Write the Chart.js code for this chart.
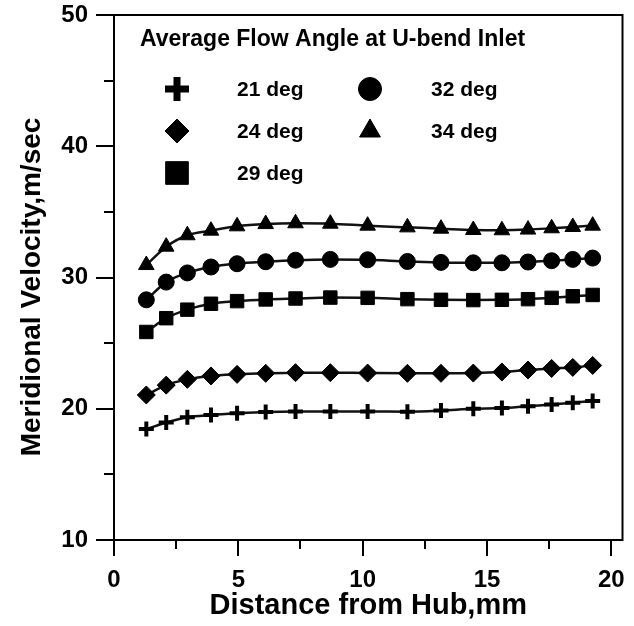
<!DOCTYPE html>
<html>
<head>
<meta charset="utf-8">
<script src="https://cdn.jsdelivr.net/npm/chart.js@4/dist/chart.umd.min.js"></script>
<style>
  body { margin: 0; background: #fff; }
  #wrap { width: 634px; height: 626px; }
</style>
</head>
<body>
<div id="wrap"><canvas id="chart" width="634" height="626"></canvas></div>
<script>
// distance from hub (mm) of the measuring stations
const distance = [1.3, 2.1, 2.95, 3.9, 4.95, 6.1, 7.3, 8.7, 10.2, 11.8, 13.15, 14.45, 15.6, 16.65, 17.6, 18.45, 19.25];

// meridional velocity (m/sec) for each average flow angle
const deg21 = [18.45, 18.95, 19.35, 19.52, 19.65, 19.76, 19.8, 19.8, 19.8, 19.78, 19.86, 20.0, 20.05, 20.2, 20.32, 20.45, 20.6];
const deg24 = [21.05, 21.8, 22.24, 22.5, 22.62, 22.7, 22.75, 22.75, 22.72, 22.7, 22.7, 22.72, 22.8, 22.95, 23.07, 23.15, 23.3];
const deg29 = [25.85, 26.9, 27.55, 28.0, 28.2, 28.33, 28.4, 28.47, 28.45, 28.35, 28.3, 28.28, 28.3, 28.35, 28.45, 28.57, 28.67];
const deg32 = [28.3, 29.65, 30.35, 30.8, 31.05, 31.2, 31.32, 31.38, 31.35, 31.22, 31.15, 31.12, 31.12, 31.18, 31.28, 31.38, 31.48];
const deg34 = [30.95, 32.35, 33.22, 33.57, 33.9, 34.07, 34.13, 34.1, 33.95, 33.82, 33.72, 33.62, 33.6, 33.65, 33.75, 33.85, 33.95];

const legendTitle = "Average Flow Angle at U-bend Inlet";
const xTitle = "Distance from Hub,mm";
const yTitle = "Meridional Velocity,m/sec";

const FONT = "'Liberation Sans', Arial, sans-serif";

function pts(vals) {
    return vals.map((v, i) => ({x: distance[i], y: v}));
}

function series(label, vals, style, radius, bw, legendRadius, legendBw) {
    return {
        label: label,
        data: pts(vals),
        borderColor: "#111",
        borderWidth: 2.5,
        backgroundColor: "#000",
        pointStyle: style,
        pointRadius: radius,
        pointBorderWidth: bw,
        pointBackgroundColor: "#000",
        pointBorderColor: "#000",
        cubicInterpolationMode: "monotone",
        fill: false,
        legendRadius: legendRadius,
        legendBw: legendBw
    };
}

// stop the layout from shrinking the plot for overhanging tick labels
function fixBox(size) {
    return s => {
        if (s.isHorizontal()) s.height = size; else s.width = size;
        s.paddingTop = 0;
        s.paddingBottom = 0;
        s.paddingLeft = 0;
        s.paddingRight = 0;
    };
}

// box + outward tick marks (major long, minor short) and the y title
const frameTicks = {
    id: "frameTicks",
    afterDraw(chart) {
        const {ctx, chartArea: a, scales} = chart;
        ctx.save();
        ctx.strokeStyle = "#000";
        ctx.lineWidth = 2;
        ctx.strokeRect(a.left, a.top, a.right - a.left, a.bottom - a.top);
        ctx.beginPath();
        scales.y.ticks.forEach(t => {
            const y = Math.round(scales.y.getPixelForValue(t.value));
            const len = t.value % 10 === 0 ? 18 : 10;
            ctx.moveTo(a.left - len, y);
            ctx.lineTo(a.left, y);
        });
        scales.x.ticks.forEach(t => {
            const x = Math.round(scales.x.getPixelForValue(t.value));
            const len = t.value % 5 === 0 ? 16 : 9;
            ctx.moveTo(x, a.bottom);
            ctx.lineTo(x, a.bottom + len);
        });
        ctx.stroke();

        ctx.fillStyle = "#000";
        ctx.font = "bold 28px " + FONT;
        ctx.textAlign = "center";
        ctx.textBaseline = "middle";
        ctx.translate(32, 287);
        ctx.rotate(-Math.PI / 2);
        ctx.fillText(yTitle, 0, 0);
        ctx.restore();
    }
};

// legend inside the plot, two columns
const insideLegend = {
    id: "insideLegend",
    afterDraw(chart) {
        const ctx = chart.ctx;
        const cols = [177, 370];
        const textX = [237, 431];
        const rows = [89, 131, 173];
        const order = [[0, 0], [0, 1], [0, 2], [1, 0], [1, 1]];
        ctx.save();
        ctx.fillStyle = "#000";
        ctx.textAlign = "left";
        ctx.textBaseline = "middle";
        ctx.font = "bold 23px " + FONT;
        ctx.fillText(legendTitle, 140, 40);
        ctx.font = "bold 21px " + FONT;
        chart.data.datasets.forEach((ds, i) => {
            const [c, r] = order[i];
            ctx.fillStyle = "#000";
            ctx.strokeStyle = "#000";
            ctx.lineWidth = ds.legendBw;
            Chart.helpers.drawPoint(ctx, {
                pointStyle: ds.pointStyle,
                radius: ds.legendRadius,
                borderWidth: ds.legendBw,
                rotation: 0
            }, cols[c], rows[r]);
            ctx.fillText(ds.label, textX[c], rows[r] + 1);
        });
        ctx.restore();
    }
};

const ctx = document.getElementById("chart").getContext("2d");

const chart = new Chart(ctx, {
    type: "line",
    data: {
        datasets: [
            series("21 deg", deg21, "cross", 7.5, 4, 12, 7),
            series("24 deg", deg24, "rectRot", 9, 1, 12, 1),
            series("29 deg", deg29, "rect", 9.5, 1, 16, 1),
            series("32 deg", deg32, "circle", 8, 1, 11.5, 1),
            series("34 deg", deg34, "triangle", 9, 1, 12, 1)
        ]
    },
    options: {
        responsive: false,
        animation: false,
        layout: {
            padding: {top: 15, right: 2, left: 0, bottom: 0}
        },
        plugins: {
            legend: {display: false},
            tooltip: {enabled: false}
        },
        scales: {
            x: {
                type: "linear",
                min: 0,
                max: 20.45,
                afterFit: fixBox(86),
                grid: {display: false, drawTicks: false},
                border: {display: false},
                ticks: {
                    stepSize: 2.5,
                    includeBounds: false,
                    autoSkip: false,
                    maxRotation: 0,
                    padding: 26,
                    color: "#000",
                    font: {family: FONT, size: 24, weight: "bold"},
                    callback: v => (v % 5 === 0 ? v : "")
                },
                title: {
                    display: true,
                    text: xTitle,
                    color: "#000",
                    font: {family: FONT, size: 29, weight: "bold"},
                    padding: {top: 0, bottom: 3}
                }
            },
            y: {
                min: 10,
                max: 50,
                afterFit: fixBox(114),
                grid: {display: false, drawTicks: false},
                border: {display: false},
                ticks: {
                    stepSize: 5,
                    autoSkip: false,
                    padding: 26,
                    color: "#000",
                    font: {family: FONT, size: 24, weight: "bold"},
                    callback: v => (v % 10 === 0 ? v : "")
                }
            }
        }
    },
    plugins: [frameTicks, insideLegend]
});
</script>
</body>
</html>
